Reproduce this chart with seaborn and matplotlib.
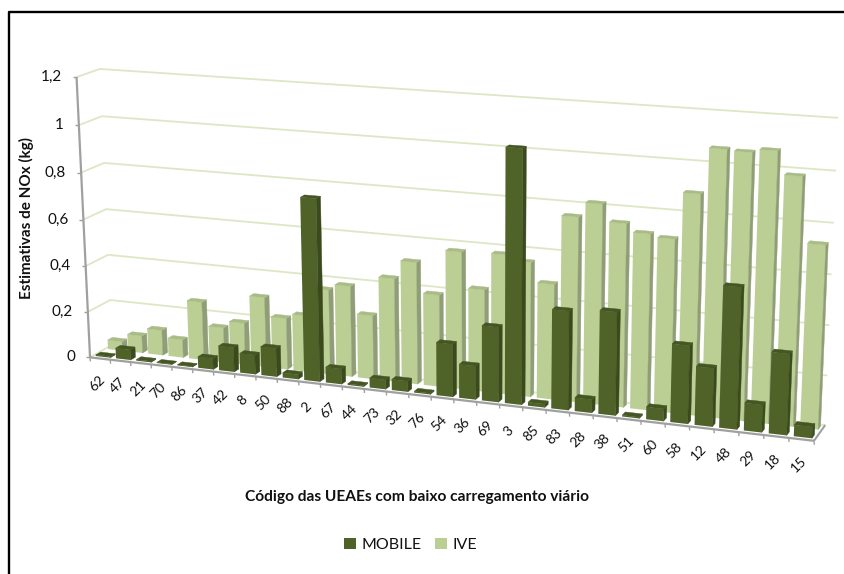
import numpy as np
import pandas as pd
import matplotlib
matplotlib.use('Agg')
import matplotlib.pyplot as plt
import matplotlib.transforms as mtransforms
from matplotlib.lines import Line2D
from matplotlib.patches import Polygon
import seaborn as sns

## Chart data
codigos = ['62', '47', '21', '70', '86', '37', '42', '8', '50', '88', '2', '67', '44', '73', '32', '76',
           '54', '36', '69', '3', '85', '83', '28', '38', '51', '60', '58', '12', '48', '29', '18', '15']
mobile = [0.005, 0.045, 0.005, 0.003, 0.003, 0.048, 0.105, 0.083, 0.122, 0.02, 0.768, 0.065, 0.005, 0.04, 0.045, 0.005,
          0.22, 0.14, 0.31, 1.035, 0.014, 0.405, 0.055, 0.42, 0.005, 0.05, 0.315, 0.235, 0.565, 0.11, 0.323, 0.045]
ive = [0.04, 0.075, 0.11, 0.078, 0.252, 0.15, 0.18, 0.30, 0.22, 0.24, 0.36, 0.385, 0.27, 0.435, 0.512, 0.385,
       0.572, 0.425, 0.577, 0.555, 0.475, 0.755, 0.815, 0.745, 0.712, 0.70, 0.885, 1.065, 1.06, 1.073, 0.983, 0.728]
y_ticks = [0, 0.2, 0.4, 0.6, 0.8, 1.0, 1.2]
y_tick_labels = ['0', '0,2', '0,4', '0,6', '0,8', '1', '1,2']

## Colours
DARK = {'front': '#4F6228', 'side': '#3A4A1C', 'top': '#445622'}
LIGHT = {'front': '#BBCF95', 'side': '#8F9E76', 'top': '#A9BC86'}
GRID = '#DCE7C6'
AXIS = '#A0A0A0'
W, H = 845, 574

## Depth slots of the two rows of bars (0 = front of floor, 1 = back wall)
DEPTH_MOBILE = (0.13, 0.35)
DEPTH_IVE = (0.68, 0.90)

## Camera: fitted on the corners of the chart box (category, value, depth) -> picture pixel
left, right = -0.5, len(codigos) - 0.5
box = [(left, 0, 0, 91, 357), (right, 0, 0, 814, 441), (right, 0, 1, 825, 425), (left, 0, 1, 112, 345),
       (left, 1.2, 0, 77, 77), (left, 1.2, 1, 100, 69), (right, 1.2, 1, 838, 118),
       (left, 0.6, 0, 82, 220), (right, 0.6, 1, 832, 274), (left, 0.6, 1, 106, 209)]
A, b = [], []
for x, v, d, px, py in box:
    A.append([x, v, d, 1, 0, 0, 0, 0, -px * x, -px * v, -px * d])
    A.append([0, 0, 0, 0, x, v, d, 1, -py * x, -py * v, -py * d])
    b += [px, py]
sol = np.linalg.lstsq(np.array(A, float), np.array(b, float), rcond=None)[0]
P = np.append(sol, 1).reshape(3, 4)


def project(x, v, d):
    q = P @ np.array([x, v, d, 1.0])
    return q[0] / q[2], q[1] / q[2]


def to_disp(points):
    # picture pixels (y down) to display coordinates
    return [(px, H - py) for px, py in points]


class PlaneProjection(mtransforms.Transform):
    # sends (category, value) on a plane of constant depth to the display
    input_dims = 2
    output_dims = 2

    def __init__(self, plane):
        super().__init__()
        self.plane = plane

    def transform_non_affine(self, values):
        values = np.asarray(values, float)
        pts = np.c_[values, np.full(len(values), self.plane), np.ones(len(values))]
        q = pts @ P.T
        return np.c_[q[:, 0] / q[:, 2], H - q[:, 1] / q[:, 2]]


def face(ax, points, color, z):
    ax.add_patch(Polygon(to_disp(points), closed=True, facecolor=color, edgecolor=color, linewidth=0.3,
                         transform=mtransforms.IdentityTransform(), zorder=z, clip_on=False))


def line(ax, points, color, lw, z=1):
    xs, ys = zip(*to_disp(points))
    ax.add_line(Line2D(xs, ys, color=color, linewidth=lw, transform=mtransforms.IdentityTransform(),
                       zorder=z, clip_on=False, solid_capstyle='butt'))


## Building the graph
sns.set_theme(style='white')
plt.rcParams['font.family'] = ['Lato', 'DejaVu Sans']

df = pd.DataFrame({'codigo': codigos * 2,
                   'nox': mobile + ive,
                   'modelo': ['MOBILE'] * len(codigos) + ['IVE'] * len(codigos)})

fig = plt.figure(figsize=(W / 100, H / 100), dpi=100)
ax = fig.add_axes([0, 0, 1, 1])
sns.barplot(data=df, x='codigo', y='nox', hue='modelo', order=codigos, hue_order=['MOBILE', 'IVE'],
            palette=[DARK['front'], LIGHT['front']], dodge=False, width=0.72, saturation=1, linewidth=0, ax=ax)

## Moving each row of bars to its depth and adding the side and top faces
rows = [(ax.containers[1], DEPTH_IVE, LIGHT, 3), (ax.containers[0], DEPTH_MOBILE, DARK, 5)]
for container, (d0, d1), colors, base_z in rows:
    for i, bar in enumerate(container.patches):
        z = base_z + i * 0.01
        x0, x1, v = bar.get_x(), bar.get_x() + bar.get_width(), bar.get_height()
        bar.set_transform(PlaneProjection(d0))
        bar.set_clip_on(False)
        bar.set_zorder(z)
        face(ax, [project(x1, 0, d0), project(x1, v, d0), project(x1, v, d1), project(x1, 0, d1)], colors['side'], z)
        face(ax, [project(x0, v, d0), project(x1, v, d0), project(x1, v, d1), project(x0, v, d1)], colors['top'], z)

## Walls: gridlines on the back and on the left side
for v in y_ticks:
    line(ax, [project(left, v, 0), project(left, v, 1), project(right, v, 1)], GRID, 1.3)

## Axis lines and ticks
line(ax, [project(left, 0, 0), project(left, 1.2, 0)], AXIS, 1.6, 2)
line(ax, [project(left, 0, 0), project(right, 0, 0)], AXIS, 1.6, 2)
line(ax, [project(right, 0, 0), project(right, 0, 1)], AXIS, 1.5, 2)
for i in range(len(codigos) + 1):
    px, py = project(left + i, 0, 0)
    line(ax, [(px, py), (px + 0.3, py + 4)], AXIS, 1, 2)
for v, label in zip(y_ticks, y_tick_labels):
    px, py = project(left, v, 0)
    line(ax, [(px, py), (px - 4, py)], AXIS, 1, 2)
    fig.text((px - 15) / W, 1 - py / H, label, ha='right', va='center', fontsize=11, color='#111111')

## Category labels
for i, code in enumerate(codigos):
    px, py = project(i, 0, 0)
    fig.text((px - 3) / W, 1 - (py + 25) / H, code, rotation=45, ha='center', va='center',
             fontsize=10, color='#111111')

## Titles
fig.text(26 / W, 1 - 218 / H, 'Estimativas de NOx (kg)', rotation=90, ha='center', va='center',
         fontsize=11, fontweight='bold', color='#111111')
fig.text(417 / W, 1 - 497 / H, 'Código das UEAEs com baixo carregamento viário', ha='center', va='center',
         fontsize=11.2, fontweight='bold', color='#111111')

## Outer frame (only left and top are visible in the picture)
fig.add_artist(Line2D([9 / W, 9 / W, 1], [0, 1 - 12 / H, 1 - 12 / H], color='black', linewidth=1.7,
                      transform=fig.transFigure))

## Legend
sns.move_legend(ax, 'center', bbox_to_anchor=(410.5 / W, 1 - 545 / H), ncol=2, frameon=False, title=None,
                fontsize=11.5, handlelength=0.75, handleheight=0.75, handletextpad=0.35, columnspacing=0.85)
for text in ax.get_legend().get_texts():
    text.set_color('#111111')

ax.set_xlim(0, 1)
ax.set_ylim(0, 1)
ax.axis('off')
fig.savefig('out.png', dpi=100)
